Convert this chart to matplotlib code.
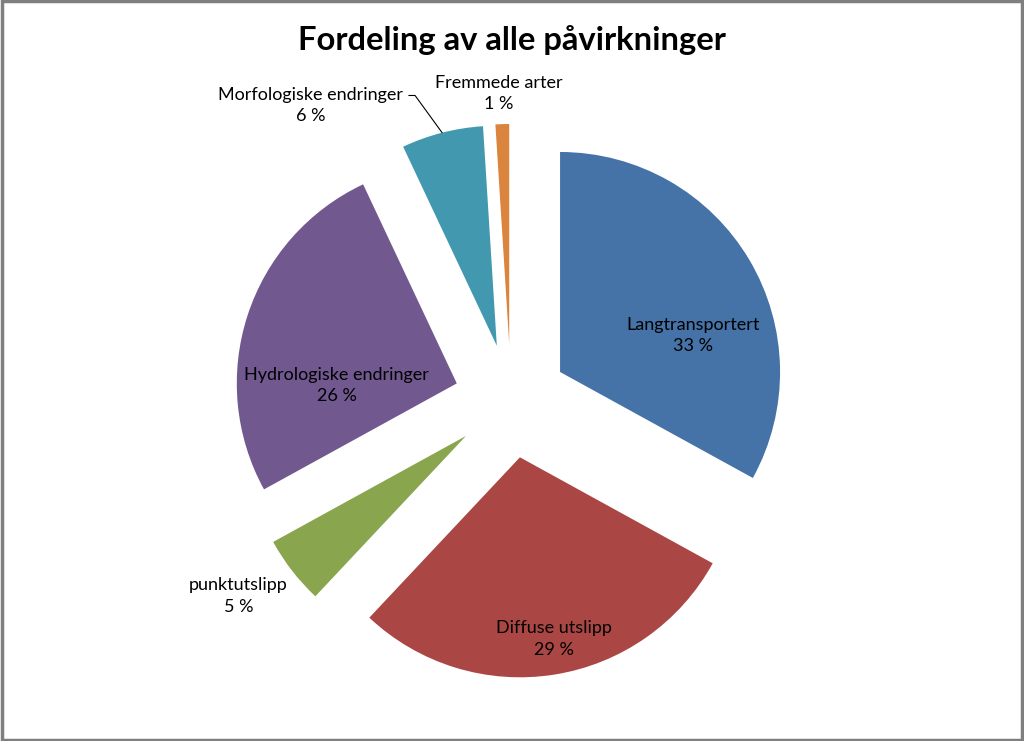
import numpy as np
import matplotlib
matplotlib.use('Agg')
import matplotlib.pyplot as plt

plt.rcParams['font.family'] = ['Lato', 'DejaVu Sans']

# Data
labels = ['Langtransportert', 'Diffuse utslipp', 'punktutslipp',
          'Hydrologiske endringer', 'Morfologiske endringer', 'Fremmede arter']
values = [33, 29, 5, 26, 6, 1]
colors = ['#4572A7', '#AA4643', '#89A54E', '#71588F', '#4198AF', '#DB843D']

# label placement relative to each wedge (fraction of radius, angle in degrees)
label_r = [0.627, 0.84, 1.265, 0.545, 1.38, 1.14]
label_ang = [15.5, -79.4, -144.9, 181.0, 127.8, 92.3]

W, H = 1024, 741
radius = 220
center = (511, 340)
expl = 57

fig = plt.figure(figsize=(W / 100, H / 100), dpi=100)
ax = fig.add_axes([0, 0, 1, 1])

wedges, _ = ax.pie(values, colors=colors, startangle=90, counterclock=False,
                   radius=radius, center=center, explode=[expl] * len(values),
                   wedgeprops=dict(linewidth=0), frame=True)
ax.set_xlim(0, W)
ax.set_ylim(0, H)
ax.set_aspect('equal')
ax.axis('off')

for i, w in enumerate(wedges):
    cx, cy = w.center
    a = np.deg2rad(label_ang[i])
    tx = cx + label_r[i] * radius * np.cos(a)
    ty = cy + label_r[i] * radius * np.sin(a)
    txt = f'{labels[i]}\n{values[i]} %'
    if labels[i] == 'Morfologiske endringer':
        tm = np.deg2rad((w.theta1 + w.theta2) / 2)
        px = cx + radius * np.cos(tm)
        py = cy + radius * np.sin(tm)
        ax.annotate(txt, xy=(px, py), xytext=(tx, ty), ha='center', va='center',
                    fontsize=13, color='black', linespacing=1.4,
                    arrowprops=dict(arrowstyle='-', color='black', lw=0.8,
                                    shrinkA=2, shrinkB=0, relpos=(1.0, 0.78),
                                    connectionstyle='angle,angleA=0,angleB=-54,rad=0'))
    else:
        ax.text(tx, ty, txt, ha='center', va='center', fontsize=13,
                color='black', linespacing=1.4)

ax.text(W / 2, 701, 'Fordeling av alle påvirkninger', ha='center', va='center',
        fontsize=23.6, fontweight='bold', color='black')

# chart border
fig.patches.append(plt.Rectangle((0.0015, 0.002), 0.997, 0.996, transform=fig.transFigure,
                                 fill=False, edgecolor='#7f7f7f', linewidth=2.5))

fig.savefig('out.png', dpi=100)
